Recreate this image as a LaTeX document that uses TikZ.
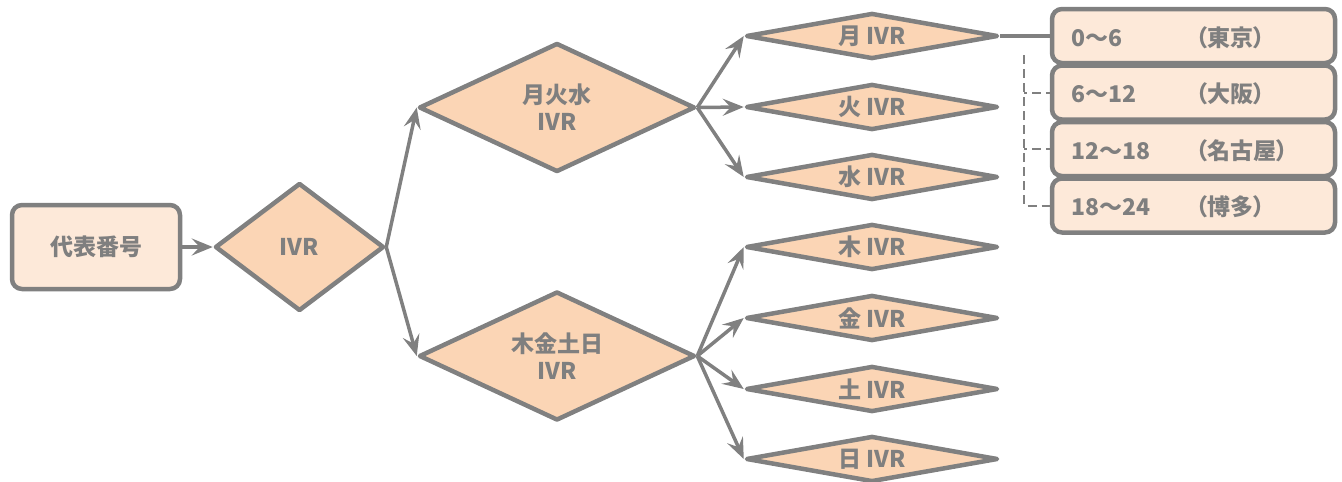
\documentclass[tikz,border=0pt]{standalone}
\usepackage{fontspec}
\setmainfont{Noto Sans CJK JP}
\newfontfamily\jpp{Noto Sans CJK JP}[RawFeature=+palt]
\usetikzlibrary{shapes.geometric,arrows.meta,calc}
\definecolor{edge}{HTML}{808080}
\definecolor{lightfill}{HTML}{FDE9D9}
\definecolor{darkfill}{HTML}{FBD5B5}
\definecolor{txt}{HTML}{7F7F7F}
\begin{document}
\begin{tikzpicture}[x=1pt,y=-1pt,
  lbl/.style={text=txt,font=\bfseries\fontsize{23}{27}\selectfont},
  rbox/.style={draw=edge,line width=4.5pt,fill=lightfill,rounded corners=10pt,inner sep=0pt},
  dia/.style={shape=diamond,draw=edge,line width=4.5pt,fill=darkfill,inner sep=0pt,line join=round,lbl,align=center},
  small/.style={dia,aspect=5.5,minimum width=252pt,minimum height=46pt},
  big/.style={dia,aspect=2.1,minimum width=276pt,minimum height=129pt},
  slot/.style={rbox,minimum width=283pt,minimum height=54pt},
  conn/.style={draw=edge,line width=3.5pt,-{Stealth[length=21pt,width=17pt,inset=8pt]}},
  plain/.style={draw=edge,line width=4pt},
  dsh/.style={draw=edge,line width=2pt,dash pattern=on 9pt off 5pt},
]
\useasboundingbox (0,0) rectangle (1342,482);

\node[rbox,minimum width=168pt,minimum height=84pt,lbl] (rep) at (96,247) {代表番号};
\node[dia,aspect=1.3,minimum width=169pt,minimum height=128pt] (ivr) at (299.5,247) {IVR};
\node[big] (mtw) at (557,107.5) {月火水\\IVR};
\node[big] (tfss) at (557,356) {木金土日\\IVR};

\node[small] (mon) at (872,36) {月 IVR};
\node[small] (tue) at (872,107) {火 IVR};
\node[small] (wed) at (872,177) {水 IVR};
\node[small] (thu) at (872,247) {木 IVR};
\node[small] (fri) at (872,318) {金 IVR};
\node[small] (sat) at (872,389) {土 IVR};
\node[small] (sun) at (872,459) {日 IVR};

\node[slot] (t1) at (1193.5,36) {};
\node[slot] (t2) at (1193.5,92.5) {};
\node[slot] (t3) at (1193.5,149) {};
\node[slot] (t4) at (1193.5,205.5) {};

\node[lbl,anchor=west,inner sep=0pt] (l1) at ($(t1.west)+(22,1.5)$) {\makebox[124pt][l]{0〜6}{\jpp（東京）}};
\node[lbl,anchor=west,inner sep=0pt] (l2) at ($(t2.west)+(22,1.5)$) {\makebox[124pt][l]{6〜12}{\jpp（大阪）}};
\node[lbl,anchor=west,inner sep=0pt] (l3) at ($(t3.west)+(22,1.5)$) {\makebox[124pt][l]{12〜18}{\jpp（名古屋）}};
\node[lbl,anchor=west,inner sep=0pt] (l4) at ($(t4.west)+(22,1.5)$) {\makebox[124pt][l]{18〜24}{\jpp（博多）}};

\draw[conn] (rep.east) -- (ivr.west);
\draw[conn] (ivr.east) -- (mtw.west);
\draw[conn] (ivr.east) -- (tfss.west);
\foreach \d in {mon,tue,wed} \draw[conn] (mtw.east) -- (\d.west);
\foreach \d in {thu,fri,sat,sun} \draw[conn] (tfss.east) -- (\d.west);

\draw[plain] (mon.east) -- (t1.west);
\coordinate (br) at (1024,55);
\draw[dsh] (br) |- (t4.west);
\draw[dsh,dash phase=6pt] (br |- t2.west) -- (t2.west);
\draw[dsh,dash phase=6pt] (br |- t3.west) -- (t3.west);
\end{tikzpicture}
\end{document}
